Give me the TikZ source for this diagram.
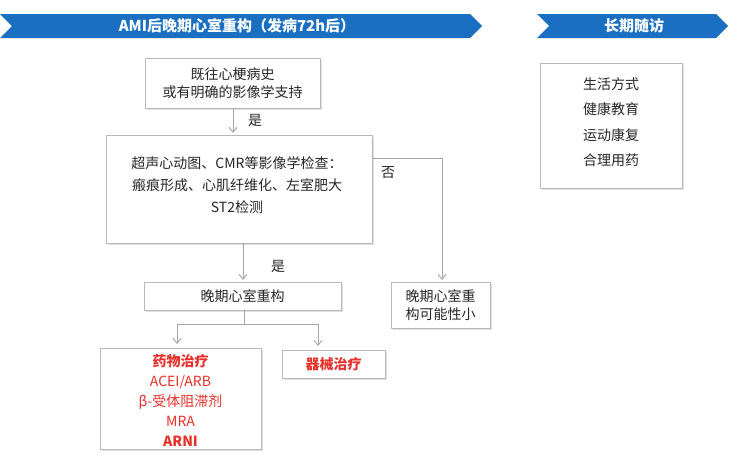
\documentclass[tikz,border=0pt]{standalone}
\usepackage{fontspec}
\setmainfont{Noto Sans CJK SC}
\usetikzlibrary{arrows.meta,shadows}
\definecolor{bannerblue}{HTML}{1B6FC2}
\definecolor{redtxt}{HTML}{E8302A}
\begin{document}
\begin{tikzpicture}[x=1pt,y=-1pt,
  box/.style={draw=gray!55,fill=white,line width=0.8pt,drop shadow={opacity=0.25,shadow xshift=1.5pt,shadow yshift=-1.5pt}},
  txt/.style={font=\fontsize{14}{18}\selectfont,text=black!85,align=center,inner sep=0pt},
  conn/.style={draw=gray!70,line width=0.9pt},
  arr/.style={conn,-{Straight Barb[length=5pt,width=8pt]}},
  banner/.style={fill=bannerblue}]
\useasboundingbox (0,0) rectangle (738,469);
% banners
\fill[banner] (0,14) -- (470,14) -- (482,26) -- (470,38) -- (0,38) -- (12,26) -- cycle;
\node[text=white,font=\bfseries\fontsize{15}{17}\selectfont] (b1) at (237,26) {AMI后晚期心室重构（发病72h后）};
\fill[banner] (537,14) -- (716,14) -- (728,26) -- (716,38) -- (537,38) -- (549,26) -- cycle;
\node[text=white,font=\bfseries\fontsize{15}{17}\selectfont] (b2) at (634,26) {长期随访};
% boxes
\draw[box] (145,58) rectangle (320,108);
\node[txt] (n1) at (232.5,83) {既往心梗病史\\或有明确的影像学支持};
\draw[box] (106,135) rectangle (372,243);
\node[txt,font=\fontsize{14}{22}\selectfont] (n2) at (237,185) {超声心动图、CMR等影像学检查：\\瘢痕形成、心肌纤维化、左室肥大\\ST2检测};
\draw[box] (144,282) rectangle (341,310);
\node[txt] (n3) at (242.5,296) {晚期心室重构};
\draw[box] (391,282) rectangle (490,328);
\node[txt] (n4) at (440.5,305) {晚期心室重\\构可能性小};
\draw[box] (100,348) rectangle (261,449);
\node[txt,text=redtxt,font=\fontsize{14}{20}\selectfont] (n5) at (180.5,400) {\textbf{药物治疗}\\ACEI/ARB\\β-受体阻滞剂\\MRA\\\textbf{ARNI}};
\draw[box] (282,350) rectangle (385,378);
\node[txt,text=redtxt,font=\bfseries\fontsize{14}{16}\selectfont] (n6) at (333.5,364) {器械治疗};
\draw[box] (540,63) rectangle (682,188);
\node[txt,font=\fontsize{14}{25.5}\selectfont] (n7) at (611,122) {生活方式\\健康教育\\运动康复\\合理用药};
% connectors
\coordinate (a1) at (233,108); \coordinate (a2) at (233,133);
\draw[arr] (a1) -- (a2);
\node[txt] (l1) at (255,120) {是};
\coordinate (c1) at (243,243); \coordinate (c2) at (243,280);
\draw[arr] (c1) -- (c2);
\node[txt] (l2) at (278,266) {是};
\coordinate (d1) at (372,158); \coordinate (d2) at (442,158); \coordinate (d3) at (442,280);
\draw[arr] (d1) -- (d2) -- (d3);
\node[txt] (l3) at (388,173) {否};
\coordinate (e1) at (244,310); \coordinate (e2) at (244,324);
\coordinate (f1) at (177,324); \coordinate (f2) at (318,324);
\coordinate (g1) at (177,344); \coordinate (g2) at (318,346);
\draw[conn] (e1) -- (e2);
\draw[arr] (e2) -- (f1) -- (g1);
\draw[arr] (e2) -- (f2) -- (g2);
\end{tikzpicture}
\end{document}
